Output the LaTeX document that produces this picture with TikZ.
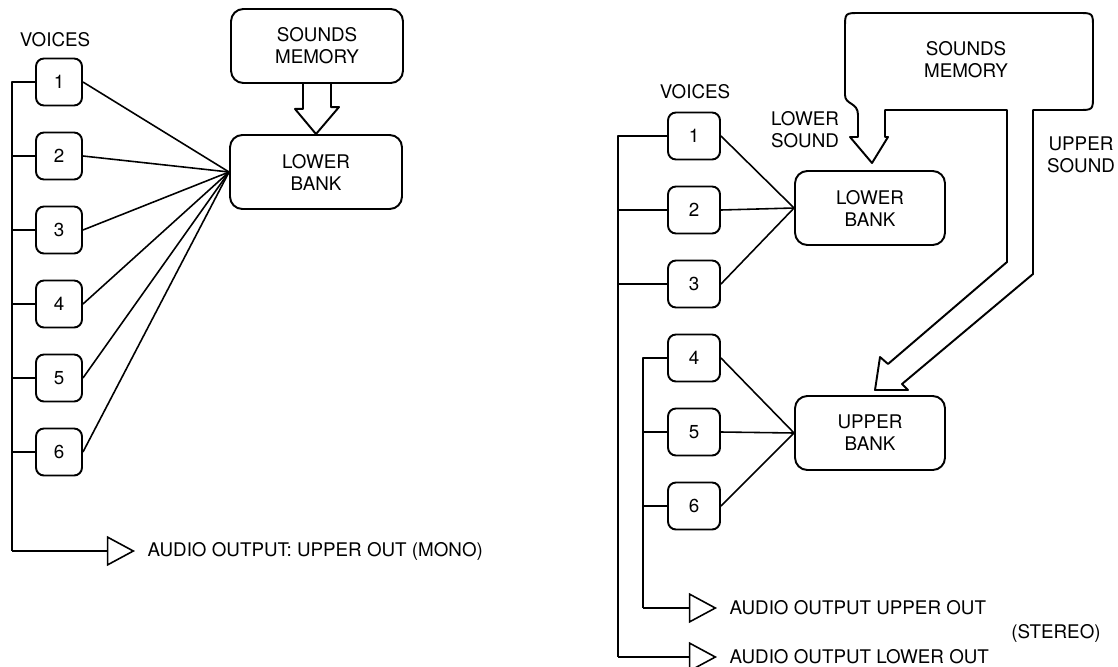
\documentclass[tikz,border=0pt]{standalone}
\usepackage{fontspec}
\setmainfont{TeX Gyre Heros}
\usetikzlibrary{arrows.meta, positioning}

\begin{document}
\begin{tikzpicture}[x=0.02cm, y=-0.02cm, line join=round]
  \tikzstyle{voice}=[rectangle, rounded corners=4.5pt, draw, line width=1.1pt,
                     minimum width=0.92cm, minimum height=0.94cm, inner sep=0pt,
                     font=\fontsize{10.7}{12.5}\selectfont]
  \tikzstyle{bank}=[rectangle, rounded corners=7pt, draw, line width=1.1pt,
                    minimum width=3.44cm, minimum height=1.48cm, align=center,
                    font=\fontsize{10.7}{12.5}\selectfont]
  \tikzstyle{lbl}=[align=center, font=\fontsize{10.7}{12.5}\selectfont]
  \tikzstyle{wire}=[line width=0.9pt]
  \tikzstyle{outarr}=[wire, -{Triangle[open, length=16pt, width=17pt]}]
  \tikzstyle{fat}=[line width=1.1pt]
  \useasboundingbox (0,0) rectangle (1118,666);

  % mono
  \node[lbl] (lvoices) at (55,40) {VOICES};
  \node[bank] (lmem) at (317,46) {SOUNDS\\MEMORY};
  \node[bank] (lbank) at (316,172) {LOWER\\BANK};
  \foreach \i in {1,...,6}
    \node[voice] (lv\i) at (59,8+74*\i) {\i};
  \coordinate (ltop) at (12,82);
  \coordinate (lbot) at (12,551);
  \coordinate (lout) at (135,551);
  \draw[wire] (lv1.west) -- (ltop) -- (lbot);
  \foreach \i in {2,...,6}
    \draw[wire] (lv\i.west) -- (lv\i.west -| ltop);
  \foreach \i in {1,...,6}
    \draw[wire] (lv\i.east) -- (lbank.west);
  \draw[outarr] (lbot) -- (lout);
  \node[lbl, right=0.13cm of lout] (lmono) {AUDIO OUTPUT: UPPER OUT (MONO)};
  \draw[fat] (lmem.south) ++(-14,0) -- ++(0,25) -- ++(-8,0) -- (lbank.north)
    -- ++(23,-27) -- ++(-8,0) -- ++(0,-25);

  % stereo
  \node[lbl] (rvoices) at (695,92) {VOICES};
  \foreach \i in {1,...,6}
    \node[voice, minimum width=1.04cm] (rv\i) at (694,62+74*\i) {\i};
  \node[bank, minimum width=3cm] (rlow) at (870,208) {LOWER\\BANK};
  \node[bank, minimum width=3cm] (rup) at (870,433) {UPPER\\BANK};
  \foreach \i in {1,2,3}
    \draw[wire] (rv\i.east) -- (rlow.west);
  \foreach \i in {4,5,6}
    \draw[wire] (rv\i.east) -- (rup.west);
  \coordinate (rtop) at (618,136);
  \coordinate (rbot) at (618,657);
  \coordinate (rlout) at (717,657);
  \coordinate (rutop) at (643,358);
  \coordinate (rubot) at (643,608);
  \coordinate (ruout) at (717,608);
  \draw[wire] (rv1.west) -- (rtop) -- (rbot);
  \draw[wire] (rv4.west) -- (rutop) -- (rubot);
  \foreach \i in {2,3}
    \draw[wire] (rv\i.west) -- (rv\i.west -| rtop);
  \foreach \i in {5,6}
    \draw[wire] (rv\i.west) -- (rv\i.west -| rutop);
  \draw[outarr] (rubot) -- (ruout);
  \draw[outarr] (rbot) -- (rlout);
  \node[lbl, right=0.13cm of ruout] (rupper) {AUDIO OUTPUT UPPER OUT};
  \node[lbl, right=0.13cm of rlout] (rlower) {AUDIO OUTPUT LOWER OUT};
  \node[lbl] (stereo) at (1056,633) {(STEREO)};

  % memory with both sound arrows
  \draw[fat] (885,137) -- (885,110) -- (1007,110) -- (1007,262) -- (888,364)
    -- (880,357) -- (875,390) -- (908,390) -- (902,384) -- (1033,274)
    -- (1033,110) -- (1078,110) .. controls (1093,110) .. (1093,95)
    -- (1093,28) .. controls (1093,13) .. (1078,13) -- (860,13)
    .. controls (845,13) .. (845,28) -- (845,95)
    .. controls (845,105) and (858,102) .. (858,115) -- (858,137)
    -- (850,137) -- (872,163) -- (888,137) -- cycle;
  \node[lbl] (rmem) at (966,60) {SOUNDS\\MEMORY};
  \node[lbl] (lsound) at (805,130) {LOWER\\SOUND};
  \node[lbl] (usound) at (1081,155) {UPPER\\SOUND};
\end{tikzpicture}
\end{document}
